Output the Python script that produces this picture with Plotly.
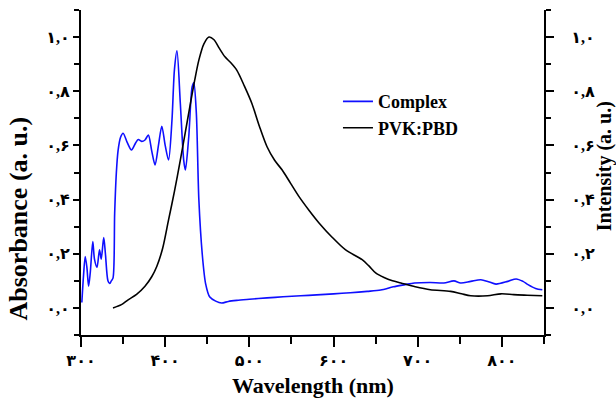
import plotly.graph_objects as go

# Complex absorbance (blue)
wl_complex = [301, 303, 305, 307, 309, 311, 314, 316, 319, 322, 324, 327, 329, 332, 334, 336, 338,
              340, 342, 344, 347, 350, 355, 360, 365, 368, 372, 376, 380, 384, 388, 392, 396, 400, 404,
              408, 411, 414, 418, 422, 424, 428, 432, 434, 437, 440, 444, 448, 453, 460, 467, 475, 485,
              500, 521, 540, 561, 580, 600, 620, 640, 656, 671, 685, 696, 715, 731, 743, 751, 763, 775,
              784, 793, 807, 817, 825, 831, 840, 848]
abs_complex = [0.02, 0.12, 0.19, 0.15, 0.08, 0.13, 0.245, 0.18, 0.15, 0.215, 0.18, 0.26, 0.20, 0.10, 0.09, 0.10, 0.11,
               0.35, 0.50, 0.58, 0.63, 0.645, 0.61, 0.583, 0.61, 0.622, 0.615, 0.62, 0.638, 0.58, 0.528, 0.60, 0.671, 0.60, 0.546,
               0.69, 0.88, 0.949, 0.755, 0.546, 0.509, 0.632, 0.816, 0.831, 0.72, 0.40, 0.20, 0.09, 0.04, 0.025, 0.018, 0.024, 0.028,
               0.032, 0.037, 0.041, 0.045, 0.048, 0.052, 0.056, 0.061, 0.066, 0.078, 0.086, 0.092, 0.094, 0.092, 0.10, 0.092, 0.098, 0.104,
               0.097, 0.088, 0.098, 0.107, 0.098, 0.086, 0.072, 0.067]

# PVK:PBD emission (black)
wl_pvk = [338, 348, 356, 366, 376, 384, 390, 397, 404, 411, 418, 424, 430, 435, 440, 446, 452, 458, 464, 471,
          478, 485, 494, 503, 512, 521, 530, 539, 549, 559, 571, 583, 598, 614, 634, 642, 650, 660, 670, 680,
          697, 715, 739, 752, 763, 783, 799, 814, 830, 848]
int_pvk = [0.0, 0.012, 0.03, 0.05, 0.08, 0.115, 0.153, 0.22, 0.325, 0.43, 0.546, 0.65, 0.755, 0.84, 0.915, 0.975, 1.0, 0.99, 0.96, 0.927,
           0.905, 0.878, 0.82, 0.755, 0.67, 0.595, 0.545, 0.509, 0.46, 0.411, 0.36, 0.313, 0.262, 0.215, 0.178, 0.155, 0.129, 0.112, 0.10, 0.092,
           0.078, 0.067, 0.061, 0.052, 0.045, 0.045, 0.052, 0.049, 0.047, 0.045]

x_tickvals = [300, 400, 500, 600, 700, 800]
x_ticktext = ["۳۰۰", "۴۰۰", "۵۰۰", "۶۰۰", "۷۰۰", "۸۰۰"]
y_tickvals = [0.0, 0.2, 0.4, 0.6, 0.8, 1.0]
y_ticktext = ["۰,۰", "۰,۲", "۰,۴", "۰,۶", "۰,۸", "۱,۰"]

FONT = "Liberation Serif, Times New Roman, DejaVu Sans, serif"

fig = go.Figure()
fig.add_trace(go.Scatter(x=wl_complex, y=abs_complex, mode="lines", name="Complex",
                         line=dict(color="#0f0fff", width=1.6, shape="spline", smoothing=0.8), yaxis="y"))
fig.add_trace(go.Scatter(x=wl_pvk, y=int_pvk, mode="lines", name="PVK:PBD",
                         line=dict(color="black", width=1.6, shape="spline", smoothing=0.8), yaxis="y2"))

axis_common = dict(showgrid=False, zeroline=False, showline=True, linecolor="black", linewidth=2,
                   ticks="outside", tickcolor="black", tickwidth=1.5,
                   tickfont=dict(family=FONT, size=16, color="black", weight="bold"))

fig.update_layout(
    width=616, height=401,
    margin=dict(l=81, r=72, t=10, b=66),
    paper_bgcolor="white", plot_bgcolor="white",
    showlegend=True,
    legend=dict(x=0.555, y=0.775, xanchor="left", yanchor="top", bgcolor="rgba(0,0,0,0)",
                font=dict(family=FONT, size=18, color="black", weight="bold"),
                tracegroupgap=0, itemwidth=30),
    xaxis=dict(range=[300, 850], tickvals=x_tickvals, ticktext=x_ticktext, ticklen=10,
               minor=dict(tickvals=[350, 450, 550, 650, 750, 850], ticklen=7, tickcolor="black", tickwidth=1.5),
               **axis_common),
    yaxis=dict(range=[-0.1, 1.1], tickvals=y_tickvals, ticktext=y_ticktext, ticklen=6,
               minor=dict(tickvals=[-0.1, 0.1, 0.3, 0.5, 0.7, 0.9, 1.1], ticklen=5, tickcolor="black", tickwidth=1.5),
               **axis_common),
    yaxis2=dict(range=[-0.1, 1.1], tickvals=y_tickvals, ticktext=y_ticktext, ticklen=8,
                overlaying="y", side="right", ticklabelstandoff=14,
                minor=dict(tickvals=[-0.1, 0.1, 0.3, 0.5, 0.7, 0.9, 1.1], ticklen=5, tickcolor="black", tickwidth=1.5),
                **axis_common),
    annotations=[
        dict(text="<b>Wavelength (nm)</b>", xref="paper", yref="paper", x=0.5, y=-0.155,
             xanchor="center", yanchor="middle", showarrow=False,
             font=dict(family=FONT, size=22, color="black")),
        dict(text="<b>Absorbance (a. u.)</b>", xref="paper", yref="paper", x=-0.135, y=0.36,
             xanchor="center", yanchor="middle", showarrow=False, textangle=-90,
             font=dict(family=FONT, size=26, color="black")),
        dict(text="<b>Intensity (a. u.)</b>", xref="paper", yref="paper", x=1.13, y=0.52,
             xanchor="center", yanchor="middle", showarrow=False, textangle=-90,
             font=dict(family=FONT, size=20, color="black")),
    ],
)

fig.write_html("out.html")
